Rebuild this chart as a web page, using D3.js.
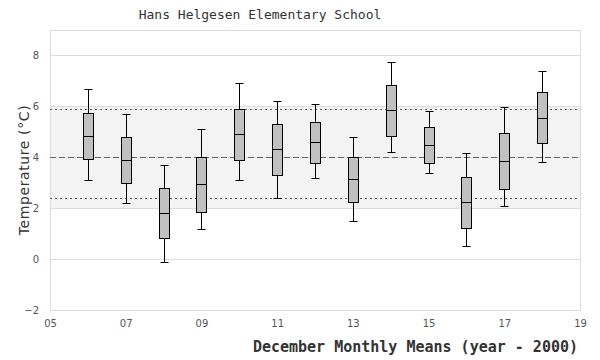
<!DOCTYPE html>
<html>
<head>
<meta charset="utf-8">
<script src="https://cdn.jsdelivr.net/npm/d3@7"></script>
<style>
  body { margin: 0; background: #fff; }
</style>
</head>
<body>
<div id="chart-area"></div>
<script>
// DATA
// =====
var years = [6, 7, 8, 9, 10, 11, 12, 13, 14, 15, 16, 17, 18];
var hiWhisker = [6.67, 5.69, 3.69, 5.10, 6.90, 6.20, 6.08, 4.78, 7.76, 5.80, 4.18, 5.99, 7.37];
var q3 = [5.73, 4.78, 2.78, 4.02, 5.88, 5.29, 5.37, 4.00, 6.82, 5.18, 3.22, 4.94, 6.55];
var medians = [4.82, 3.88, 1.80, 2.94, 4.90, 4.33, 4.59, 3.14, 5.84, 4.47, 2.24, 3.84, 5.53];
var q1 = [3.93, 2.98, 0.82, 1.84, 3.88, 3.29, 3.76, 2.24, 4.82, 3.76, 1.22, 2.75, 4.55];
var loWhisker = [3.10, 2.20, -0.12, 1.18, 3.10, 2.39, 3.18, 1.49, 4.20, 3.37, 0.51, 2.08, 3.80];
var xTicks = [5, 7, 9, 11, 13, 15, 17, 19];
var yTicks = [-2, 0, 2, 4, 6, 8];
var meanLine = 4.0;
var sdLines = [5.88, 2.39];
var band = [2, 6];

// CANVAS + MARGINS
// =================
var margin = { left: 50, right: 20, top: 30, bottom: 50 };
var width = 600 - margin.left - margin.right,
    height = 360 - margin.top - margin.bottom;

var svg = d3.select('#chart-area')
    .append('svg')
        .attr('width', 600)
        .attr('height', 360);

var g = svg.append('g')
    .attr('transform', 'translate(' + margin.left + ',' + margin.top + ')');

var x = d3.scaleLinear().domain([5, 19]).range([0, width]);
var y = d3.scaleLinear().domain([-2, 9]).range([height, 0]);

// band of "normal" values
g.append('rect')
    .attr('x', 0)
    .attr('width', width)
    .attr('y', y(band[1]))
    .attr('height', y(band[0]) - y(band[1]))
    .attr('fill', '#f3f3f3');

// grid
g.selectAll('.grid')
    .data(yTicks)
    .enter().append('line')
    .attr('class', 'grid')
    .attr('x1', 0).attr('x2', width)
    .attr('y1', d => Math.round(y(d)) + 0.5)
    .attr('y2', d => Math.round(y(d)) + 0.5)
    .attr('stroke', '#dddddd');

// frame
g.append('rect')
    .attr('x', 0.5).attr('y', 0.5)
    .attr('width', width).attr('height', height)
    .attr('fill', 'none')
    .attr('stroke', '#dddddd');

// mean + sd lines
g.append('line')
    .attr('x1', 0).attr('x2', width)
    .attr('y1', Math.round(y(meanLine)) + 0.5)
    .attr('y2', Math.round(y(meanLine)) + 0.5)
    .attr('stroke', '#666')
    .attr('stroke-dasharray', '6,3');

g.selectAll('.sd')
    .data(sdLines)
    .enter().append('line')
    .attr('class', 'sd')
    .attr('x1', 0).attr('x2', width)
    .attr('y1', d => Math.round(y(d)) + 0.5)
    .attr('y2', d => Math.round(y(d)) + 0.5)
    .attr('stroke', '#555')
    .attr('stroke-dasharray', '2,3');

// AXES
// =====
var xAxisCall = d3.axisBottom(x)
    .tickValues(xTicks)
    .tickSize(0)
    .tickPadding(10)
    .tickFormat(d3.format('02d'));
var xAxis = g.append('g')
    .attr('transform', 'translate(0,' + height + ')')
    .call(xAxisCall);

var yAxisCall = d3.axisLeft(y)
    .tickValues(yTicks)
    .tickSize(0)
    .tickPadding(11);
var yAxis = g.append('g').call(yAxisCall);

[xAxis, yAxis].forEach(a => {
    a.select('.domain').remove();
    a.selectAll('text')
        .attr('fill', '#555')
        .attr('font-family', 'DejaVu Sans')
        .attr('font-size', '10px');
});

// BOXES
// ======
var boxW = 9, capW = 8;
var data = years.map((yr, i) => ({
    year: yr, hi: hiWhisker[i], q3: q3[i], med: medians[i], q1: q1[i], lo: loWhisker[i]
}));

var boxes = g.selectAll('.box')
    .data(data)
    .enter().append('g')
    .attr('class', 'box')
    .attr('transform', d => 'translate(' + (Math.round(x(d.year)) + 0.5) + ',0)');

boxes.append('line')
    .attr('x1', 0).attr('x2', 0)
    .attr('y1', d => Math.round(y(d.hi)) + 0.5)
    .attr('y2', d => Math.round(y(d.lo)) + 0.5)
    .attr('stroke', '#000');

boxes.append('line')
    .attr('x1', -capW / 2).attr('x2', capW / 2)
    .attr('y1', d => Math.round(y(d.hi)) + 0.5)
    .attr('y2', d => Math.round(y(d.hi)) + 0.5)
    .attr('stroke', '#000');

boxes.append('line')
    .attr('x1', -capW / 2).attr('x2', capW / 2)
    .attr('y1', d => Math.round(y(d.lo)) + 0.5)
    .attr('y2', d => Math.round(y(d.lo)) + 0.5)
    .attr('stroke', '#000');

boxes.append('rect')
    .attr('x', -Math.floor(boxW / 2) - 1)
    .attr('width', boxW + 1)
    .attr('y', d => Math.round(y(d.q3)) + 0.5)
    .attr('height', d => Math.round(y(d.q1)) - Math.round(y(d.q3)))
    .attr('fill', '#c0c0c0')
    .attr('stroke', '#000');

boxes.append('line')
    .attr('x1', -Math.floor(boxW / 2) - 1).attr('x2', boxW - Math.floor(boxW / 2))
    .attr('y1', d => Math.round(y(d.med)) + 0.5)
    .attr('y2', d => Math.round(y(d.med)) + 0.5)
    .attr('stroke', '#000');

// LABELS
// =======
svg.append('text')
    .attr('x', 260)
    .attr('y', 19)
    .attr('text-anchor', 'middle')
    .attr('font-family', 'DejaVu Sans Mono')
    .attr('font-size', '13px')
    .attr('fill', '#333')
    .text('Hans Helgesen Elementary School');

svg.append('text')
    .attr('x', 578)
    .attr('y', 352)
    .attr('text-anchor', 'end')
    .attr('font-family', 'DejaVu Sans Mono')
    .attr('font-size', '15px')
    .attr('font-weight', 'bold')
    .attr('fill', '#333')
    .text('December Monthly Means (year - 2000)');

svg.append('text')
    .attr('transform', 'translate(29,' + (margin.top + height / 2) + ') rotate(-90)')
    .attr('text-anchor', 'middle')
    .attr('font-family', 'DejaVu Sans')
    .attr('font-size', '14px')
    .attr('letter-spacing', '0.6px')
    .attr('fill', '#333')
    .text('Temperature (°C)');
</script>
</body>
</html>
